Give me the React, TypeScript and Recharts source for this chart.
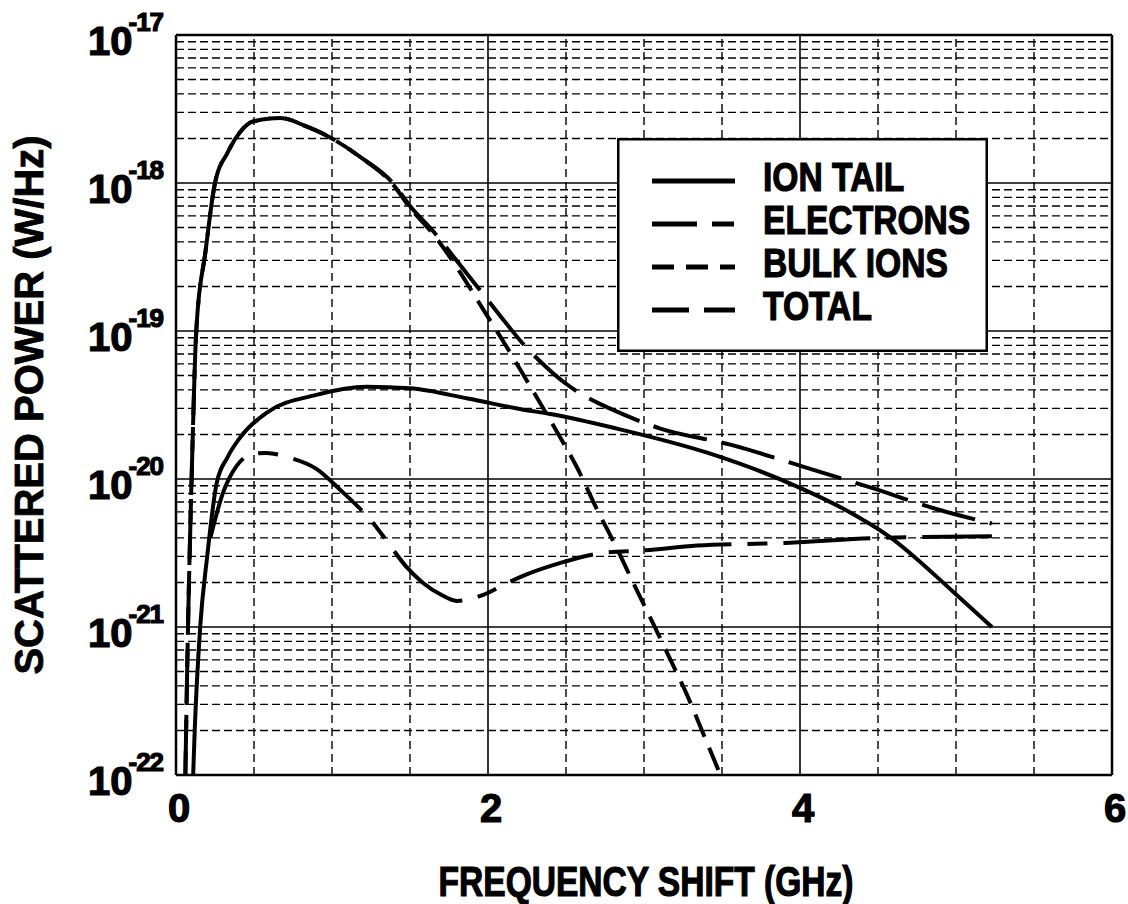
import React from 'react';
import {
  LineChart, Line, XAxis, YAxis, ReferenceLine, Legend, Label,
} from 'recharts';

const FONT = '"Liberation Sans", Arial, Helvetica, sans-serif';

// ---- data (frequency in GHz, power in W/Hz) ----
const ION_TAIL_FREQ = [0.11, 0.12, 0.155, 0.2, 0.26, 0.33, 0.41, 0.58, 0.9, 1.22, 1.5, 1.87, 2.22, 2.4, 2.82, 3.41, 3.96, 4.29, 4.57, 4.99, 5.23];
const ION_TAIL_POWER = [1e-22, 2e-22, 1e-21, 3e-21, 9.3e-21, 1.4e-20, 1.9e-20, 2.8e-20, 3.7e-20, 4.2e-20, 4.1e-20, 3.5e-20, 2.95e-20, 2.75e-20, 2.2e-20, 1.5e-20, 9.1e-21, 6.2e-21, 4.1e-21, 1.7e-21, 1.0e-21];

const ELECTRONS_FREQ = [0.22, 0.3, 0.39, 0.5, 0.58, 0.72, 0.9, 1.05, 1.28, 1.36, 1.47, 1.58, 1.7, 1.8, 1.97, 2.13, 2.24, 2.46, 2.72, 3.01, 3.34, 3.91, 4.53, 5.23];
const ELECTRONS_POWER = [4e-21, 8e-21, 1.23e-20, 1.48e-20, 1.5e-20, 1.4e-20, 1.17e-20, 8.5e-21, 4.8e-21, 3.7e-21, 2.6e-21, 2.0e-21, 1.65e-21, 1.5e-21, 1.65e-21, 2.0e-21, 2.25e-21, 2.7e-21, 3.15e-21, 3.3e-21, 3.55e-21, 3.7e-21, 4.0e-21, 4.1e-21];

const BULK_FREQ = [0.06, 0.077, 0.1, 0.13, 0.19, 0.25, 0.33, 0.41, 0.49, 0.67, 0.84, 1.0, 1.18, 1.39, 1.5, 1.65, 1.82, 1.96, 2.12, 2.25, 2.44, 2.57, 2.69, 2.82, 2.93, 3.05, 3.17, 3.28, 3.38, 3.49];
const BULK_POWER = [1e-22, 1e-21, 1e-20, 1e-19, 3.5e-19, 1.0e-18, 1.6e-18, 2.2e-18, 2.6e-18, 2.75e-18, 2.4e-18, 2.0e-18, 1.5e-18, 9.8e-19, 6.8e-19, 4.5e-19, 2.5e-19, 1.45e-19, 7.8e-20, 4.6e-20, 2.1e-20, 1.2e-20, 6.5e-21, 3.5e-21, 2.0e-21, 1.1e-21, 6.0e-22, 3.4e-22, 1.9e-22, 1.0e-22];

const TOTAL_FREQ = [0.06, 0.077, 0.1, 0.13, 0.19, 0.25, 0.33, 0.41, 0.49, 0.67, 0.84, 1.0, 1.18, 1.39, 1.5, 1.65, 1.82, 1.93, 2.08, 2.22, 2.33, 2.5, 2.67, 2.78, 3.1, 3.56, 4.0, 4.46, 4.89, 5.23];
const TOTAL_POWER = [1e-22, 1e-21, 1e-20, 1e-19, 3.5e-19, 1.0e-18, 1.6e-18, 2.2e-18, 2.6e-18, 2.75e-18, 2.4e-18, 2.0e-18, 1.5e-18, 1.0e-18, 7.0e-19, 4.7e-19, 2.8e-19, 2.0e-19, 1.26e-19, 8.3e-20, 6.3e-20, 4.4e-20, 3.4e-20, 3.0e-20, 2.2e-20, 1.7e-20, 1.23e-20, 8.7e-21, 6.2e-21, 5.0e-21];

// ---- axes ----
const X_TICKS = [0, 2, 4, 6];
const X_MINOR = [0.5, 1, 1.5, 2.5, 3, 3.5, 4.5, 5, 5.5];
const X_MAJOR = [2, 4];
const Y_EXPONENTS = [-22, -21, -20, -19, -18, -17];
const Y_MINOR_MULT = [2, 3, 4, 5, 6, 7, 8, 9];

const Y_TICKS = Y_EXPONENTS.map((e) => Math.pow(10, e));
const Y_MINOR = Y_EXPONENTS.slice(0, -1).flatMap((e) => Y_MINOR_MULT.map((m) => m * Math.pow(10, e)));

const zip = (fs: number[], ps: number[]) => fs.map((f, i) => ({ f, p: ps[i] }));

const SERIES = [
  { name: 'ION TAIL', data: zip(ION_TAIL_FREQ, ION_TAIL_POWER), dash: undefined, width: 4, legendDash: undefined },
  { name: 'ELECTRONS', data: zip(ELECTRONS_FREQ, ELECTRONS_POWER), dash: '87 16 20 16', width: 4, legendDash: '45 15 22 15' },
  { name: 'BULK IONS', data: zip(BULK_FREQ, BULK_POWER), dash: '24 12', width: 4, legendDash: '22 12' },
  { name: 'TOTAL', data: zip(TOTAL_FREQ, TOTAL_POWER), dash: '55 15', width: 4, legendDash: '37 15' },
];

// heavy, slightly smeared look of the scanned lettering
const INK = { fill: '#000', stroke: '#000', strokeWidth: 1.2, fontFamily: FONT, fontWeight: 'bold' as const };

function YTick({ y, payload }: any) {
  const exp = Math.round(Math.log10(payload.value));
  return (
    <text x={88} y={y + 20} fontSize={40} textAnchor="start" {...INK}>
      10
      <tspan dx={-4} dy={-24} fontSize={26} letterSpacing={-1}>{`-${Math.abs(exp)}`}</tspan>
    </text>
  );
}

function XTick({ x, payload }: any) {
  return (
    <text x={x + 3} y={822} fontSize={40} textAnchor="middle" {...INK}>
      {payload.value}
    </text>
  );
}

function LegendBox() {
  return (
    <svg width={371} height={214} style={{ display: 'block' }}>
      <rect x={1.25} y={1.25} width={368.5} height={211.5} fill="#fff" stroke="#000" strokeWidth={2.5} />
      {SERIES.map((s, i) => (
        <g key={s.name}>
          <line x1={35} x2={118} y1={43 + i * 43} y2={43 + i * 43} stroke="#000" strokeWidth={5} strokeDasharray={s.legendDash} />
          <text transform={`translate(146 ${53 + i * 43}) scale(0.82 1)`} fontSize={41} {...INK}>
            {s.name}
          </text>
        </g>
      ))}
    </svg>
  );
}

export default function App() {
  return (
    <div style={{ position: 'absolute', left: 0, top: 0, background: '#fff' }}>
      <LineChart width={1128} height={904} margin={{ top: 35, right: 16, bottom: 0, left: 0 }}>
        <XAxis
          dataKey="f"
          type="number"
          domain={[0, 6]}
          ticks={X_TICKS}
          interval={0}
          allowDataOverflow
          axisLine={false}
          tickLine={false}
          height={129}
          tick={<XTick />}
        >
          <Label
            content={() => (
              <text transform="translate(646 896) scale(0.78 1)" fontSize={43} textAnchor="middle" {...INK}>
                FREQUENCY SHIFT (GHz)
              </text>
            )}
          />
        </XAxis>
        <YAxis
          dataKey="p"
          type="number"
          scale="log"
          domain={[1e-22, 1e-17]}
          ticks={Y_TICKS}
          interval={0}
          allowDataOverflow
          axisLine={false}
          tickLine={false}
          width={176}
          tick={<YTick />}
        >
          <Label
            content={() => (
              <text x={43} y={405} fontSize={40} textAnchor="middle"
                transform="rotate(-90 43 405)" {...INK} strokeWidth={0.8}>
                SCATTERED POWER (W/Hz)
              </text>
            )}
          />
        </YAxis>

        {Y_MINOR.map((v) => (
          <ReferenceLine key={`ym${v}`} y={v} stroke="#000" strokeWidth={1.4} strokeDasharray="8 4" ifOverflow="visible" />
        ))}
        {X_MINOR.map((v) => (
          <ReferenceLine key={`xm${v}`} x={v} stroke="#000" strokeWidth={1.4} strokeDasharray="8 5" ifOverflow="visible" />
        ))}
        {Y_TICKS.map((v) => (
          <ReferenceLine key={`yM${v}`} y={v} stroke="#000" strokeWidth={1.6} ifOverflow="visible" />
        ))}
        {X_MAJOR.map((v) => (
          <ReferenceLine key={`xM${v}`} x={v} stroke="#000" strokeWidth={1.6} ifOverflow="visible" />
        ))}
        <ReferenceLine x={0} stroke="#000" strokeWidth={2.5} ifOverflow="visible" />
        <ReferenceLine x={6} stroke="#000" strokeWidth={2.5} ifOverflow="visible" />
        <ReferenceLine y={1e-22} stroke="#000" strokeWidth={2.5} ifOverflow="visible" />
        <ReferenceLine y={1e-17} stroke="#000" strokeWidth={2.5} ifOverflow="visible" />

        {SERIES.map((s) => (
          <Line
            key={s.name}
            data={s.data}
            dataKey="p"
            name={s.name}
            type="monotone"
            stroke="#000"
            strokeWidth={s.width}
            strokeDasharray={s.dash}
            dot={false}
            activeDot={false}
            isAnimationActive={false}
          />
        ))}

        <Legend
          layout="vertical"
          align="center"
          verticalAlign="middle"
          content={<LegendBox />}
          wrapperStyle={{ position: 'absolute', left: 617, top: 138, width: 371, height: 214 }}
        />
      </LineChart>
    </div>
  );
}
